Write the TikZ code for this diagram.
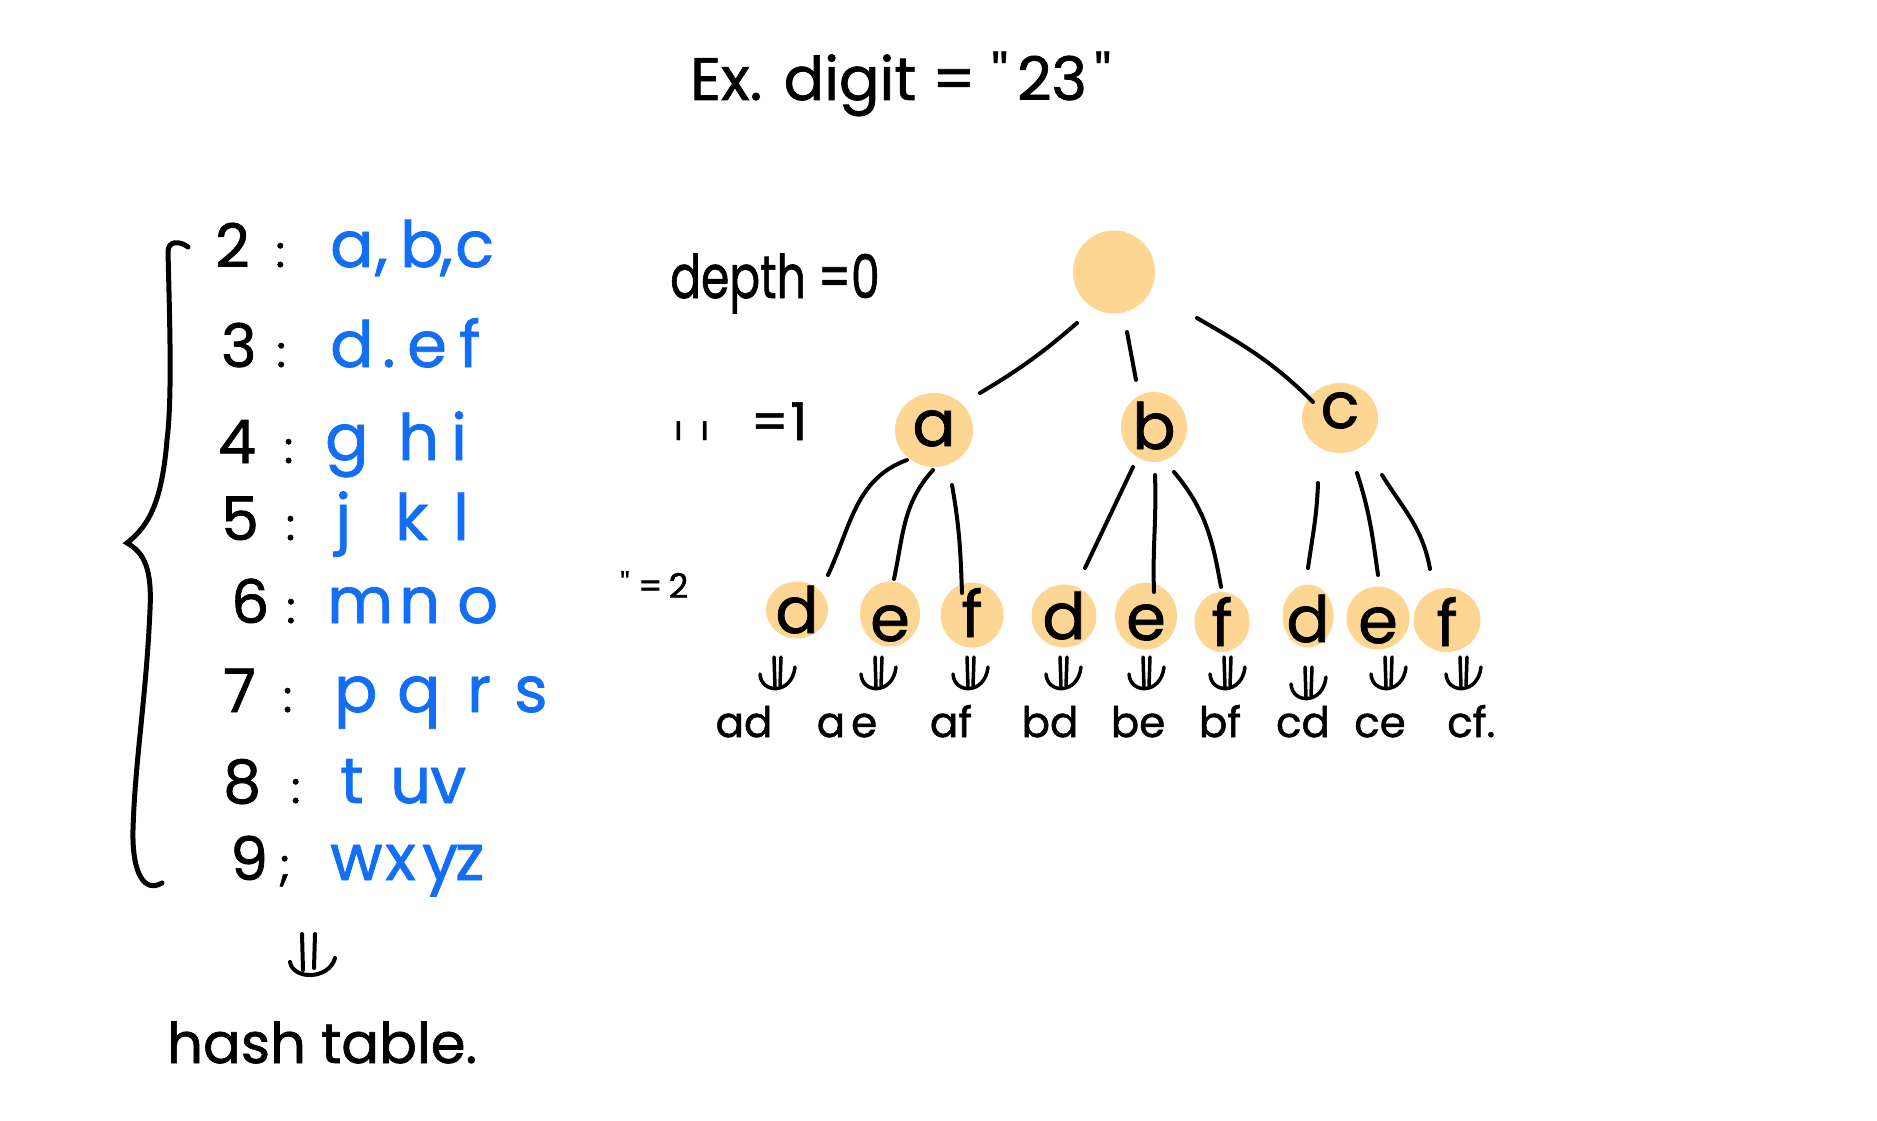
\documentclass[tikz,border=0pt]{standalone}
\usepackage{fontspec}
\setmainfont{Poppins}[FakeBold=1.2]
\font\hwq="Poppins" at 60pt
\font\hwqs="Poppins" at 34pt
\usetikzlibrary{calc,shapes.geometric}
\definecolor{hwblue}{RGB}{18,110,245}
\definecolor{blobfill}{RGB}{253,214,148}
\newcommand\hwbox[2]{\makebox[#1pt][l]{#2}}
\newcommand\blet[2]{\makebox[0pt]{\raisebox{-#1pt}[0pt][0pt]{#2}}}
\newcommand\hwcolon[2]{\hspace{#1pt}{\fontsize{44}{48}\selectfont #2}}
\begin{document}
\begin{tikzpicture}[x=1pt,y=-1pt,
  hw/.style={inner sep=0pt, font=\fontsize{60}{66}\selectfont},
  hwb/.style={inner sep=0pt, font=\fontsize{64}{70}\selectfont, text=hwblue, anchor=base west},
  digitnode/.style={hw, anchor=base west},
  blobnode/.style={ellipse, fill=blobfill, inner sep=0pt, font=\fontsize{64}{70}\selectfont},
  hwedge/.style={line width=4pt, line cap=round},
  hwstroke/.style={line width=3.5pt, line cap=round},
  leaf/.style={inner sep=0pt, font=\fontsize{42}{46}\selectfont, anchor=base},
  darr/.pic={
    \draw[hwstroke] (-3,-19) -- (-2,11);
    \draw[hwstroke] (4,-19) -- (3,10);
    \draw[hwstroke] (-17,-2) .. controls (-16,18) and (15,19) .. (18,-9);
  }
]
\useasboundingbox (0,0) rectangle (1877,1121);
\fill[white] (0,0) rectangle (1877,1121);

% title
\node[hw, anchor=base west] (title) at (690,100) {Ex. digit = {\hwq "}\hspace{8pt}23\hspace{8pt}{\hwq "}};

% brace
\draw[line width=5pt, line cap=round] (188,247) .. controls (180,241) and (168,240) .. (168,252)
  .. controls (170,330) and (172,400) .. (167,440)
  .. controls (162,500) and (150,525) .. (127,543)
  .. controls (145,553) and (152,570) .. (150,610)
  .. controls (146,700) and (135,760) .. (133,830)
  .. controls (132,875) and (145,893) .. (162,883);

% digits
\node[digitnode] (k2) at (215,267) {2\hwcolon{26}{:}};
\node[digitnode] (k3) at (221,367) {3\hwcolon{20}{:}};
\node[digitnode] (k4) at (218,463) {4\hwcolon{28}{:}};
\node[digitnode] (k5) at (221,540) {5\hwcolon{27}{:}};
\node[digitnode] (k6) at (231,623) {6\hwcolon{17}{:}};
\node[digitnode] (k7) at (223,712) {7\hwcolon{27}{:}};
\node[digitnode] (k8) at (223,803) {8\hwcolon{30}{:}};
\node[digitnode] (k9) at (230,880) {9\hwcolon{11}{;}};

% letters
\node[hwb] (v2) at (330,267) {\hwbox{45}{a}\hwbox{25}{,}\hwbox{40}{b}\hwbox{15}{,}c};
\node[hwb] (v3) at (330,367) {\hwbox{52}{d}\hwbox{25}{.}\hwbox{52}{e}f};
\node[hwb] (v4) at (325,460) {\hwbox{73}{g}\hwbox{53}{h}i};
\node[hwb] (v5) at (335,540) {\hwbox{60}{j}\hwbox{58}{k}l};
\node[hwb] (v6) at (327,623) {\hwbox{72}{m}\hwbox{58}{n}o};
\node[hwb] (v7) at (334,712) {\hwbox{63}{p}\hwbox{70}{q}\hwbox{47}{r}s};
\node[hwb] (v8) at (340,803) {\hwbox{50}{t}\hwbox{40}{u}v};
\node[hwb] (v9) at (330,880) {\hwbox{55}{w}\hwbox{37}{x}\hwbox{33}{y}z};

% hash table
\node[inner sep=0pt, font=\fontsize{56}{60}\selectfont, anchor=base west] (hash) at (167,1063) {hash table.};
\coordinate (harr) at (309,952);
\draw[hwedge] ($(harr)+(-7,-18)$) -- ($(harr)+(-6,18)$);
\draw[hwedge] ($(harr)+(6,-18)$) -- ($(harr)+(5,16)$);
\draw[hwedge] ($(harr)+(-19,10)$) .. controls ($(harr)+(-16,28)$) and ($(harr)+(20,28)$) .. ($(harr)+(26,6)$);

% depth labels
\node[hw, anchor=base west] (d0) at (670,298) {\scalebox{0.76}[1]{depth =0}};
\node[inner sep=0pt, font=\fontsize{52}{56}\selectfont, anchor=base west] (d1lab) at (674,440)
  {{\fontsize{34}{36}\selectfont ı\hspace{18pt}ı}\hspace{42pt}=\hspace{2pt}1};
\node[inner sep=0pt, font=\fontsize{34}{36}\selectfont, anchor=base west] (d2lab) at (620,598) {{\hwqs "}\hspace{8pt}=\hspace{6pt}2};

% tree nodes
\node[blobnode, minimum width=82pt, minimum height=83pt] (root) at (1114,272) {};
\node[blobnode, minimum width=78pt, minimum height=74pt] (a) at (934,430) {\blet{16}{a}};
\node[blobnode, minimum width=66pt, minimum height=70pt] (b) at (1154,427) {\blet{22}{b}};
\node[blobnode, minimum width=76pt, minimum height=70pt] (c) at (1340,418) {\blet{10}{c}};

\node[blobnode, minimum width=62pt, minimum height=57pt] (d1) at (797,610) {\blet{23}{d}};
\node[blobnode, minimum width=60pt, minimum height=65pt] (e1) at (890,614) {\blet{27}{e}};
\node[blobnode, minimum width=63pt, minimum height=65pt] (f1) at (972,615) {\blet{22}{f}};
\node[blobnode, minimum width=65pt, minimum height=63pt] (d2) at (1064,616) {\blet{23}{d}};
\node[blobnode, minimum width=62pt, minimum height=67pt] (e2) at (1146,616) {\blet{24}{e}};
\node[blobnode, minimum width=55pt, minimum height=60pt] (f2) at (1222,622) {\blet{24}{f}};
\node[blobnode, minimum width=51pt, minimum height=63pt] (d3) at (1308,616) {\blet{26}{d}};
\node[blobnode, minimum width=63pt, minimum height=63pt] (e3) at (1378,618) {\blet{25}{e}};
\node[blobnode, minimum width=67pt, minimum height=64pt] (f3) at (1447,620) {\blet{26}{f}};

% edges root -> level 1
\draw[hwedge] ($(root)+(-37,51)$) to[bend left=5] ($(a)+(46,-37)$);
\draw[hwedge] ($(root)+(13,60)$) -- ($(b)+(-18,-47)$);
\draw[hwedge] ($(root)+(83,46)$) to[out=-30,in=135] ($(c)+(-27,-16)$);

% edges level 1 -> level 2
\draw[hwedge] ($(a)+(-27,30)$) to[out=200,in=65] ($(d1)+(31,-35)$);
\draw[hwedge] ($(a)+(-1,40)$) to[out=228,in=78] ($(e1)+(4,-35)$);
\draw[hwedge] ($(a)+(18,55)$) to[out=-80,in=92] ($(f1)+(-10,-22)$);
\draw[hwedge] ($(b)+(-21,40)$) -- ($(d2)+(21,-48)$);
\draw[hwedge] ($(b)+(1,48)$) to[out=-88,in=92] ($(e2)+(8,-24)$);
\draw[hwedge] ($(b)+(20,45)$) to[out=-50,in=100] ($(f2)+(-1,-35)$);
\draw[hwedge] ($(c)+(-22,65)$) to[out=-92,in=82] ($(d3)+(0,-48)$);
\draw[hwedge] ($(c)+(17,55)$) to[out=-72,in=98] ($(e3)+(0,-43)$);
\draw[hwedge] ($(c)+(42,57)$) to[out=-58,in=100] ($(f3)+(-17,-51)$);

% leaf labels
\node[leaf] (ad) at (744,737) {ad};
\node[leaf] (ae) at (847,737) {a\hspace{6pt}e};
\node[leaf] (af) at (951,737) {af};
\node[leaf] (bd) at (1050,737) {bd};
\node[leaf] (be) at (1138,737) {be};
\node[leaf] (bf) at (1220,737) {bf};
\node[leaf] (cd) at (1303,737) {cd};
\node[leaf] (ce) at (1380,737) {ce};
\node[leaf, anchor=base west] (cf) at (1447,737) {cf.};

% small double arrows
\pic at ($(d1)+(-20,66)$) {darr};
\pic at ($(e1)+(-12,62)$) {darr};
\pic at ($(f1)+(-2,61)$) {darr};
\pic at ($(d2)+(-1,60)$) {darr};
\pic at ($(e2)+(0,60)$) {darr};
\pic at ($(f2)+(5,54)$) {darr};
\pic at ($(d3)+(0,70)$) {darr};
\pic at ($(e3)+(10,58)$) {darr};
\pic at ($(f3)+(16,56)$) {darr};
\end{tikzpicture}
\end{document}
